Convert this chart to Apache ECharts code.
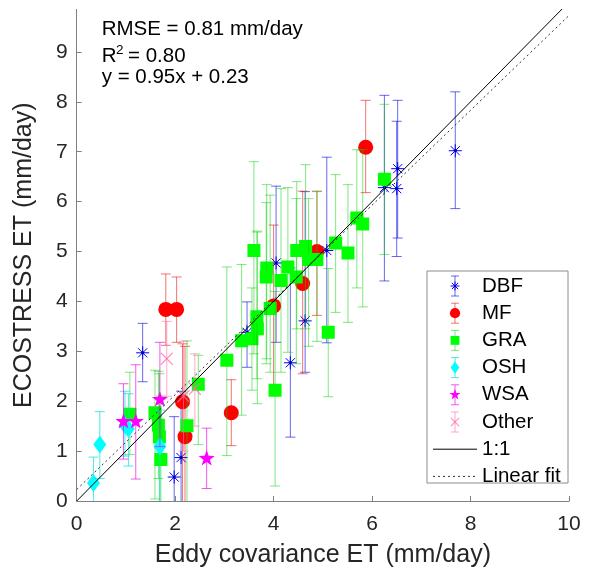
<!DOCTYPE html>
<html>
<head>
<meta charset="utf-8">
<script src="https://cdn.jsdelivr.net/npm/echarts@6/dist/echarts.min.js"></script>
<style>html,body{margin:0;padding:0;background:#fff}#c{width:595px;height:573px}</style>
</head>
<body>
<div id="c"></div>
<script>
// ---- data: [x, y, errLow, errHigh] ----
const DBF = [
  [1.34, 2.97, 2.39, 3.56],
  [1.98, 0.48, -0.7, 1.69],
  [2.12, 0.87, -0.5, 2.2],
  [3.46, 3.38, 2.68, 3.99],
  [4.05, 4.77, 3.18, 6.31],
  [4.34, 2.77, 1.28, 4.67],
  [4.64, 3.61, 2.58, 6.2],
  [5.08, 5.02, 3.17, 6.89],
  [6.25, 6.28, 4.41, 8.13],
  [6.50, 6.26, 4.90, 7.61],
  [6.52, 6.66, 5.27, 8.03],
  [7.69, 7.02, 5.86, 8.20]
];
const MF = [
  [1.81, 3.84, 3.12, 4.55],
  [2.03, 3.84, 3.18, 4.49],
  [2.15, 1.99, -0.5, 3.15],
  [2.20, 1.29, -0.5, 3.10],
  [3.14, 1.77, 1.11, 2.43],
  [4.00, 3.91, 2.29, 5.53],
  [4.59, 4.36, 2.55, 6.21],
  [4.88, 5.00, 3.72, 6.21],
  [5.87, 7.09, 6.18, 8.03]
];
const GRA = [
  [1.08, 1.74, 0.93, 2.58],
  [1.59, 1.77, 0.04, 2.62],
  [1.66, 1.52, 0.45, 2.60],
  [1.68, 1.29, -0.1, 2.55],
  [1.71, 0.83, -0.5, 2.10],
  [2.24, 1.51, -0.2, 3.21],
  [2.47, 2.34, 1.13, 2.92],
  [3.05, 2.82, 0.91, 4.69],
  [3.35, 3.21, 1.72, 4.74],
  [3.56, 3.25, 2.22, 4.27],
  [3.67, 3.45, 1.95, 5.41],
  [3.66, 3.69, 2.45, 5.39],
  [3.93, 3.86, 2.58, 6.13],
  [3.60, 5.02, 2.95, 6.80],
  [3.86, 4.67, 2.85, 6.34],
  [3.85, 4.49, 2.75, 5.98],
  [4.15, 4.42, 2.58, 6.26],
  [4.29, 4.69, 2.98, 6.28],
  [4.46, 4.49, 2.75, 6.06],
  [4.47, 5.02, 3.45, 6.40],
  [4.65, 5.10, 3.45, 6.74],
  [4.71, 4.84, 3.10, 6.06],
  [4.88, 4.84, 3.20, 6.20],
  [5.11, 3.38, 2.09, 4.66],
  [5.26, 5.17, 3.78, 6.54],
  [5.51, 4.97, 3.58, 6.34],
  [5.69, 5.67, 4.27, 7.04],
  [5.81, 5.55, 3.89, 7.04],
  [6.25, 6.45, 4.94, 7.95],
  [4.03, 2.22, 0.30, 4.20]
];
const OSH = [
  [0.34, 0.36, -0.2, 0.88],
  [0.47, 1.13, 0.45, 1.79],
  [0.98, 1.52, 0.90, 2.20],
  [1.05, 1.45, 0.70, 2.15],
  [1.69, 1.09, -0.3, 1.82]
];
const WSA = [
  [0.95, 1.59, 0.84, 2.35],
  [1.20, 1.59, 0.44, 2.73],
  [1.69, 2.03, 1.09, 3.18],
  [2.64, 0.85, 0.25, 1.46]
];
const OTHER = [
  [1.83, 2.85, 2.10, 3.60],
  [2.17, 2.10, 1.00, 3.20],
  [2.40, 2.25, 1.50, 2.95]
];
const ONE_TO_ONE = [[0, 0], [10, 10]];
const FIT_SLOPE = 0.95, FIT_INTERCEPT = 0.23;
const FIT_LINE = [[0, FIT_INTERCEPT], [10, FIT_SLOPE * 10 + FIT_INTERCEPT]];
const X_TICKS = [0, 2, 4, 6, 8, 10];
const Y_TICKS = [0, 1, 2, 3, 4, 5, 6, 7, 8, 9];
const LEGEND_NAMES = ['DBF', 'MF', 'GRA', 'OSH', 'WSA', 'Other', '1:1', 'Linear fit'];

const FONT = '"Liberation Sans", Arial, Helvetica, sans-serif';

const STYLES = {
  DBF:   {kind: 'asterisk', mark: '#0000ff', bar: 'rgba(0,0,230,0.6)'},
  MF:    {kind: 'circle',   mark: '#ff0000', bar: 'rgba(230,0,0,0.55)'},
  GRA:   {kind: 'square',   mark: '#00ff00', bar: 'rgba(0,210,0,0.5)'},
  OSH:   {kind: 'diamond',  mark: '#00ffff', bar: 'rgba(0,225,225,0.7)'},
  WSA:   {kind: 'star',     mark: '#ff00ff', bar: 'rgba(230,0,230,0.65)'},
  Other: {kind: 'cross',    mark: 'rgba(255,110,170,0.75)', bar: 'rgba(255,110,170,0.6)'}
};

function marker(kind, cx, cy, color, s) {
  s = s || 1;
  switch (kind) {
    case 'circle':
      return [{type: 'circle', shape: {cx, cy, r: 7.5 * s}, style: {fill: color}}];
    case 'square':
      return [{type: 'rect', shape: {x: cx - 6.5 * s, y: cy - 6.5 * s, width: 13 * s, height: 13 * s}, style: {fill: color}}];
    case 'diamond':
      return [{type: 'polygon', shape: {points: [[cx, cy - 9 * s], [cx + 6.5 * s, cy], [cx, cy + 9 * s], [cx - 6.5 * s, cy]]}, style: {fill: color}}];
    case 'star': {
      const pts = [];
      const R = 8.5 * s, r = R * 0.4;
      for (let i = 0; i < 10; i++) {
        const a = -Math.PI / 2 + i * Math.PI / 5;
        const rr = i % 2 === 0 ? R : r;
        pts.push([cx + rr * Math.cos(a), cy + rr * Math.sin(a)]);
      }
      return [{type: 'polygon', shape: {points: pts}, style: {fill: color}}];
    }
    case 'asterisk': {
      const r = 6.5 * s, d = r * 0.7071;
      const st = {stroke: color, lineWidth: 1};
      return [
        {type: 'line', shape: {x1: cx - r, y1: cy, x2: cx + r, y2: cy}, style: st},
        {type: 'line', shape: {x1: cx, y1: cy - r, x2: cx, y2: cy + r}, style: st},
        {type: 'line', shape: {x1: cx - d, y1: cy - d, x2: cx + d, y2: cy + d}, style: st},
        {type: 'line', shape: {x1: cx - d, y1: cy + d, x2: cx + d, y2: cy - d}, style: st},
        {type: 'circle', shape: {cx, cy, r: 1.6 * s}, style: {fill: '#0000aa'}}
      ];
    }
    case 'cross': {
      const d = 6 * s;
      const st = {stroke: color, lineWidth: 1.2};
      return [
        {type: 'line', shape: {x1: cx - d, y1: cy - d, x2: cx + d, y2: cy + d}, style: st},
        {type: 'line', shape: {x1: cx - d, y1: cy + d, x2: cx + d, y2: cy - d}, style: st}
      ];
    }
  }
  return [];
}

function errSeries(name, data) {
  const sty = STYLES[name];
  return {
    type: 'custom',
    name: name,
    data: data,
    clip: true,
    silent: true,
    encode: {x: 0, y: [1, 2, 3]},
    renderItem: function (params, api) {
      const x = api.value(0), y = api.value(1), lo = api.value(2), hi = api.value(3);
      const p = api.coord([x, y]);
      const pl = api.coord([x, lo]);
      const ph = api.coord([x, hi]);
      const cap = 5;
      const bs = {stroke: sty.bar, lineWidth: 1};
      const children = [
        {type: 'line', shape: {x1: p[0], y1: pl[1], x2: p[0], y2: ph[1]}, style: bs},
        {type: 'line', shape: {x1: p[0] - cap, y1: pl[1], x2: p[0] + cap, y2: pl[1]}, style: bs},
        {type: 'line', shape: {x1: p[0] - cap, y1: ph[1], x2: p[0] + cap, y2: ph[1]}, style: bs}
      ].concat(marker(sty.kind, p[0], p[1], sty.mark, 1));
      return {type: 'group', children: children};
    }
  };
}

// ---- legend (graphic) ----
const LX = 427, LY = 271, LW = 141, LH = 212;
const rowY0 = 286, rowStep = 27.2;
const legendEls = [{
  type: 'rect', shape: {x: LX, y: LY, width: LW, height: LH},
  style: {fill: '#fff', stroke: '#8c8c8c', lineWidth: 1}, z: 100
}];
LEGEND_NAMES.forEach(function (nm, i) {
  const cy = rowY0 + i * rowStep;
  const cx = 455;
  if (STYLES[nm]) {
    const sty = STYLES[nm];
    const bs = {stroke: sty.bar, lineWidth: 1};
    legendEls.push({type: 'line', shape: {x1: cx, y1: cy - 10, x2: cx, y2: cy + 10}, style: bs, z: 101});
    legendEls.push({type: 'line', shape: {x1: cx - 4, y1: cy - 10, x2: cx + 4, y2: cy - 10}, style: bs, z: 101});
    legendEls.push({type: 'line', shape: {x1: cx - 4, y1: cy + 10, x2: cx + 4, y2: cy + 10}, style: bs, z: 101});
    marker(sty.kind, cx, cy, sty.mark, 0.68).forEach(function (e) { e.z = 102; legendEls.push(e); });
  } else if (nm === '1:1') {
    legendEls.push({type: 'line', shape: {x1: 433, y1: cy, x2: 477, y2: cy}, style: {stroke: '#000', lineWidth: 1}, z: 101});
  } else {
    legendEls.push({type: 'line', shape: {x1: 433, y1: cy, x2: 477, y2: cy}, style: {stroke: '#333', lineWidth: 1, lineDash: [2, 3]}, z: 101});
  }
  legendEls.push({
    type: 'text', x: 482, y: cy, z: 102,
    style: {text: nm, fontSize: 20.5, fontFamily: FONT, fill: '#000', verticalAlign: 'middle', align: 'left'}
  });
});

// ---- statistics text ----
const statEls = [
  {type: 'text', x: 101.7, y: 29.5, z: 50, style: {text: 'RMSE = 0.81 mm/day', fontSize: 20.5, fontFamily: FONT, fill: '#000', verticalAlign: 'middle'}},
  {type: 'text', x: 101.7, y: 56.7, z: 50, style: {text: 'R', fontSize: 20.5, fontFamily: FONT, fill: '#000', verticalAlign: 'middle'}},
  {type: 'text', x: 116.0, y: 50.5, z: 50, style: {text: '2', fontSize: 13.5, fontFamily: FONT, fill: '#000', verticalAlign: 'middle'}},
  {type: 'text', x: 128.0, y: 56.7, z: 50, style: {text: '= 0.80', fontSize: 20.5, fontFamily: FONT, fill: '#000', verticalAlign: 'middle'}},
  {type: 'text', x: 101.7, y: 77.5, z: 50, style: {text: 'y = 0.95x + 0.23', fontSize: 20.5, fontFamily: FONT, fill: '#000', verticalAlign: 'middle'}}
];

const chart = echarts.init(document.getElementById('c'), null, {renderer: 'canvas'});
chart.setOption({
  animation: false,
  backgroundColor: '#fff',
  grid: {left: 76.7, right: 26, top: 9.5, bottom: 68, containLabel: false},
  xAxis: {
    type: 'value', min: 0, max: 10, interval: 2,
    name: 'Eddy covariance ET (mm/day)', nameLocation: 'middle', nameGap: 42,
    nameTextStyle: {fontSize: 25, color: '#262626', fontFamily: FONT},
    axisLine: {show: true, onZero: false, lineStyle: {color: '#808080', width: 1}},
    axisTick: {show: true, inside: true, length: 5, customValues: X_TICKS, lineStyle: {color: '#808080'}},
    axisLabel: {fontSize: 21, color: '#262626', fontFamily: FONT, margin: 13, customValues: X_TICKS},
    splitLine: {show: false}
  },
  yAxis: {
    type: 'value', min: 0, max: 9.85, interval: 1,
    name: 'ECOSTRESS ET (mm/day)', nameLocation: 'middle', nameGap: 40,
    nameTextStyle: {fontSize: 25, color: '#262626', fontFamily: FONT},
    axisLine: {show: true, onZero: false, lineStyle: {color: '#808080', width: 1}},
    axisTick: {show: true, inside: true, length: 5, customValues: Y_TICKS, lineStyle: {color: '#808080'}},
    axisLabel: {fontSize: 21, color: '#262626', fontFamily: FONT, margin: 9, customValues: Y_TICKS},
    splitLine: {show: false}
  },
  series: [
    errSeries('DBF', DBF),
    errSeries('MF', MF),
    errSeries('GRA', GRA),
    errSeries('OSH', OSH),
    errSeries('WSA', WSA),
    errSeries('Other', OTHER),
    {type: 'line', name: '1:1', data: ONE_TO_ONE, symbol: 'none', silent: true, z: 5,
     lineStyle: {color: '#000', width: 1}},
    {type: 'line', name: 'Linear fit', data: FIT_LINE, symbol: 'none', silent: true, z: 5,
     lineStyle: {color: '#333', width: 1, type: [2, 3]}}
  ],
  graphic: statEls.concat(legendEls)
});
</script>
</body>
</html>
